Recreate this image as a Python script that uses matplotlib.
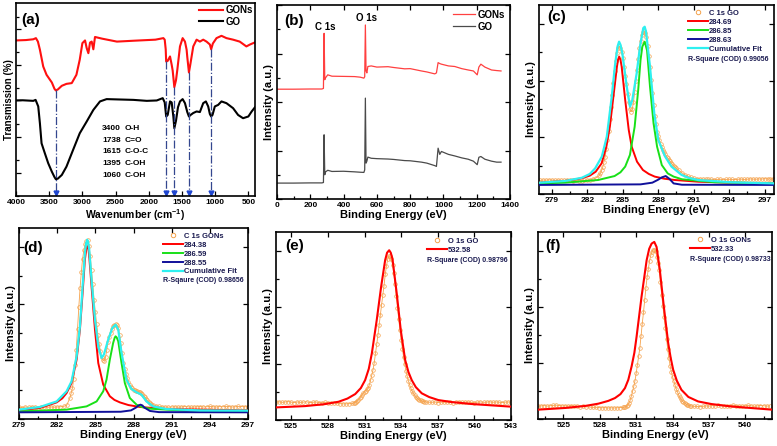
import numpy as np
import matplotlib
matplotlib.use("Agg")
import matplotlib.pyplot as plt
from matplotlib.lines import Line2D
from matplotlib.ticker import MultipleLocator

plt.rcParams['font.family'] = ['Liberation Sans Narrow', 'Liberation Sans', 'DejaVu Sans']
plt.rcParams['font.weight'] = 'bold'
plt.rcParams['axes.labelweight'] = 'bold'
plt.rcParams['mathtext.default'] = 'regular'

# ---------------- (a) FTIR ----------------
ftir_gons_x = [4000, 3850, 3740, 3700, 3670, 3640, 3590, 3540, 3460, 3420, 3400, 3370, 3310, 3240, 3160,
               3090, 3040, 3000, 2960, 2935, 2910, 2885, 2860, 2835, 2810, 2700, 2480, 2200, 1900, 1780,
               1760, 1745, 1738, 1715, 1680, 1655, 1640, 1615, 1590, 1570, 1530, 1490, 1455, 1430, 1420,
               1395, 1375, 1330, 1280, 1230, 1180, 1130, 1080, 1060, 1035, 980, 905, 830, 730, 630,
               530, 475, 400]
ftir_gons_y = [8.06, 8.08, 8.12, 8.18, 8.0, 7.58, 6.71, 6.28, 5.88, 5.55, 5.47, 5.52, 5.71, 5.81, 5.85,
               6.28, 7.06, 7.92, 8.06, 7.66, 7.4, 7.95, 8.0, 7.6, 8.24, 8.15, 8.0, 8.05, 8.1, 8.18,
               8.1, 7.6, 6.97, 7.0, 7.23, 6.8, 6.5, 5.64, 6.0, 6.54, 7.75, 8.18, 8.0, 7.58, 7.2,
               6.4, 6.8, 7.75, 8.1, 8.0, 8.1, 8.0, 7.85, 7.6, 7.9, 8.18, 8.3, 8.18, 8.1, 8.0,
               7.75, 7.85, 7.96]
ftir_go_x = [4000, 3900, 3740, 3705, 3665, 3640, 3615, 3565, 3515, 3460, 3420, 3400, 3370, 3310, 3240,
             3140, 3040, 2935, 2835, 2735, 2635, 2230, 2030, 1880, 1790, 1760, 1738, 1715, 1680, 1655,
             1630, 1615, 1590, 1560, 1530, 1490, 1455, 1420, 1395, 1370, 1330, 1280, 1230, 1180, 1140,
             1105, 1080, 1060, 1040, 1005, 955, 905, 830, 730, 655, 580, 500, 450, 400]
ftir_go_y = [4.95, 4.96, 4.93, 4.98, 4.64, 3.77, 2.73, 2.21, 1.70, 1.26, 0.98, 0.87, 0.9, 1.09, 1.52,
             2.39, 3.25, 3.86, 4.46, 4.9, 5.02, 4.98, 4.93, 4.95, 5.07, 4.85, 4.12, 4.2, 4.9, 4.85,
             4.12, 3.51, 3.9, 4.6, 4.9, 5.02, 4.81, 4.35, 4.12, 4.2, 4.3, 4.38, 4.35, 4.81, 4.9,
             4.64, 4.25, 4.12, 4.2, 4.64, 4.72, 4.9, 4.81, 4.55, 4.2, 4.03, 4.12, 4.38, 4.6]
peak_wn = [3400, 1738, 1615, 1395, 1060]
peak_top = [5.47, 6.97, 5.64, 6.4, 7.6]
peak_groups = ["O-H", "C=O", "C-O-C", "C-OH", "C-OH"]

# ---------------- (b) XPS survey ----------------
survey_x = [0, 100, 200, 270, 279, 283, 287, 292, 305, 330, 400, 466, 500, 522, 527, 531, 535, 540, 546, 566,
            600, 667, 700, 767, 800, 868, 900, 948, 958, 968, 978, 988, 1030, 1068, 1110, 1149, 1180, 1203,
            1213, 1225, 1249, 1289, 1320, 1346]
survey_gons = [5.66, 5.66, 5.67, 5.67, 5.7, 8.54, 6.15, 6.25, 6.4, 6.33, 6.32, 6.31, 6.28, 6.23, 6.3, 8.97,
               6.6, 6.5, 6.83, 6.86, 6.8, 6.82, 6.78, 6.71, 6.72, 6.6, 6.55, 6.45, 6.5, 7.03, 6.98, 6.95,
               6.86, 6.83, 6.72, 6.65, 6.6, 6.4, 6.8, 6.95, 6.8, 6.65, 6.62, 6.6]
survey_go = [0.82, 0.82, 0.83, 0.83, 0.85, 3.31, 1.25, 1.4, 1.48, 1.42, 1.43, 1.4, 1.38, 1.37, 1.5, 5.2,
             1.85, 1.95, 2.16, 2.1, 2.08, 2.06, 2.04, 1.98, 1.97, 1.9, 1.85, 1.72, 1.68, 2.62, 2.3, 2.45,
             2.3, 2.22, 2.12, 2.05, 1.95, 1.77, 2.15, 2.19, 2.05, 1.95, 1.9, 1.9]

# ---------------- (c) C 1s GO ----------------
c_left = (278.0, 0.25, [0.72, 0.74, 0.73, 0.75, 0.74, 0.72, 0.74, 0.73, 0.72, 0.74, 0.72, 0.71, 0.72, 0.70,
                        0.71, 0.72, 0.74, 0.76, 0.80, 0.86])
c_peak = (283.0, 0.1, [0.98, 1.10, 1.25, 1.42, 1.70, 1.98, 2.40, 2.85, 3.33, 3.95,
                       4.60, 5.22, 5.85, 6.50, 7.05, 7.45, 7.72, 7.82, 7.75, 7.50,
                       7.18, 6.72, 6.25, 5.80, 5.30, 4.85, 4.48, 4.36, 4.50, 4.85,
                       5.40, 5.98, 6.55, 7.12, 7.70, 8.10, 8.40, 8.57, 8.60, 8.50,
                       8.33, 7.85, 7.30, 6.74, 6.05, 5.35, 4.70, 4.15, 3.68, 3.30,
                       3.05, 2.85, 2.65, 2.48, 2.35, 2.22, 2.10, 1.98, 1.90, 1.80,
                       1.72, 1.63, 1.57, 1.50, 1.42, 1.37])
c_right = (289.75, 0.25, [1.25, 1.12, 1.02, 0.94, 0.88, 0.84, 0.82, 0.80, 0.79, 0.78, 0.77, 0.78, 0.76,
                          0.77, 0.78, 0.76, 0.77, 0.78, 0.77, 0.76, 0.78, 0.79, 0.77, 0.78, 0.80, 0.79,
                          0.78, 0.80, 0.79, 0.81, 0.80, 0.79, 0.80])
c_red_x = [277.9, 280.1, 281.5, 282.2, 282.7, 283.2, 283.6, 283.9, 284.2, 284.5, 284.6, 284.69, 284.8, 284.9,
           285.2, 285.5, 285.75, 286.2, 286.7, 287.2, 287.7, 288.5, 289.4, 291.4, 294.2, 297.8]
c_red_y = [0.60, 0.69, 0.83, 0.97, 1.18, 1.62, 2.5, 3.56, 5.15, 6.74, 7.12, 7.27, 7.1, 6.74, 4.97, 3.39,
           2.5, 1.71, 1.27, 1.06, 0.92, 0.81, 0.74, 0.65, 0.60, 0.56]
c_green_x = [277.9, 280.1, 282.9, 284.3, 284.8, 285.2, 285.6, 286.0, 286.3, 286.5, 286.65, 286.85, 287.05,
             287.3, 287.6, 287.9, 288.3, 288.8, 289.3, 290.0, 292.8, 297.8]
c_green_y = [0.56, 0.60, 0.74, 0.95, 1.15, 1.45, 2.07, 3.56, 5.5, 7.1, 7.8, 8.06, 7.6, 5.68, 3.74, 2.5,
             1.53, 1.09, 0.92, 0.78, 0.62, 0.56]
c_blue_x = [277.9, 286.5, 287.5, 288.0, 288.3, 288.63, 288.95, 289.3, 290.0, 297.8]
c_blue_y = [0.48, 0.51, 0.60, 0.76, 0.88, 0.95, 0.80, 0.56, 0.49, 0.48]
c_cum_x = [277.93, 280.12, 281.53, 282.2, 282.66, 283.22, 283.64, 284.06, 284.34, 284.55, 284.68, 284.8,
           284.96, 285.33, 285.61, 285.8, 286.17, 286.45, 286.73, 286.85, 286.96, 287.3, 287.66, 288.0,
           288.56, 289.12, 289.97, 290.6, 291.37, 294.19, 297.79]
c_cum_y = [0.60, 0.69, 0.86, 1.06, 1.36, 1.98, 3.03, 5.15, 6.84, 7.8, 8.06, 7.9, 7.44, 5.68, 4.62, 4.97,
           6.38, 7.79, 8.78, 8.85, 8.6, 6.74, 4.27, 2.86, 2.0, 1.45, 1.01, 0.85, 0.74, 0.62, 0.56]

# ---------------- (d) C 1s GONs ----------------
d_left = (279.0, 0.25, [0.62, 0.60, 0.63, 0.61, 0.64, 0.62, 0.60, 0.63, 0.62, 0.61, 0.63, 0.62, 0.63,
                        0.64, 0.66, 0.72])
d_peak = (283.0, 0.1, [1.10, 1.35, 1.62, 2.10, 2.85, 3.63, 4.70, 5.85, 6.85, 7.70,
                       8.40, 8.85, 9.15, 9.32, 9.35, 9.05, 8.55, 7.80, 7.05, 6.25,
                       5.60, 5.00, 4.42, 3.95, 3.55, 3.25, 3.08, 3.05, 3.22, 3.62,
                       4.02, 4.30, 4.52, 4.70, 4.86, 4.94, 4.96, 4.92, 4.78, 4.42,
                       3.98, 3.45, 2.95, 2.62, 2.38, 2.15, 1.95, 1.78, 1.68, 1.60,
                       1.54, 1.50, 1.47, 1.44, 1.42, 1.40, 1.35, 1.30, 1.23, 1.14,
                       1.05, 0.97, 0.90, 0.84, 0.79, 0.75])
d_right = (289.75, 0.25, [0.70, 0.66, 0.64, 0.63, 0.62, 0.63, 0.64, 0.62, 0.63, 0.65, 0.64, 0.62, 0.63,
                          0.64, 0.65, 0.63, 0.64, 0.66, 0.64, 0.63, 0.65, 0.64, 0.66, 0.65, 0.63, 0.64,
                          0.66, 0.65, 0.64, 0.65])
d_red_x = [279, 280.65, 281.96, 282.4, 282.74, 283.13, 283.53, 283.79, 284.0, 284.18, 284.3, 284.38, 284.46,
           284.52, 284.7, 284.97, 285.23, 285.62, 286.14, 286.5, 286.93, 287.6, 288.5, 290.6, 297]
d_red_y = [0.45, 0.58, 0.87, 1.08, 1.36, 1.88, 3.11, 4.68, 6.6, 8.34, 8.95, 9.04, 8.9, 8.52, 6.95, 4.68,
           2.93, 1.8, 1.19, 1.0, 0.87, 0.73, 0.63, 0.52, 0.45]
d_green_x = [279, 282.74, 284.31, 285.1, 285.62, 285.88, 286.14, 286.4, 286.52, 286.59, 286.68, 286.8,
             287.06, 287.32, 287.71, 288.24, 288.7, 289.28, 291.9, 297]
d_green_y = [0.40, 0.49, 0.66, 0.92, 1.45, 2.06, 3.11, 3.98, 4.25, 4.33, 4.27, 4.07, 2.93, 1.88, 1.10,
             0.75, 0.62, 0.54, 0.44, 0.40]
d_blue_x = [279, 287.0, 287.8, 288.2, 288.4, 288.55, 288.7, 288.85, 289.3, 290, 297]
d_blue_y = [0.35, 0.38, 0.45, 0.6, 0.71, 0.75, 0.71, 0.6, 0.42, 0.36, 0.35]
d_cum_x = [279.0, 280.65, 281.96, 282.74, 283.13, 283.53, 283.79, 284.0, 284.18, 284.28, 284.36, 284.44,
           284.52, 284.7, 284.97, 285.23, 285.49, 285.67, 286.01, 286.33, 286.59, 286.8, 287.06, 287.45,
           287.84, 288.24, 288.63, 289.02, 289.54, 290.6, 293.2, 297.0]
d_cum_y = [0.49, 0.63, 0.92, 1.45, 1.97, 3.28, 4.85, 6.95, 8.69, 9.2, 9.39, 9.25, 8.87, 7.3, 5.2, 3.8,
           3.19, 3.37, 4.15, 4.76, 4.94, 4.68, 3.46, 2.06, 1.57, 1.40, 1.27, 0.92, 0.66, 0.52, 0.45, 0.44]

# ---------------- (e) O 1s GO ----------------
e_left = (523.75, 0.25, [0.95, 0.97, 0.94, 0.96, 0.98, 0.95, 0.93, 0.96, 0.94, 0.95, 0.97, 0.93, 0.94,
                         0.96, 0.93, 0.92, 0.94, 0.91, 0.90, 0.92, 0.89, 0.87, 0.86, 0.86, 0.87])
e_peak = (530.0, 0.1, [0.88, 0.90, 0.93, 0.97, 1.02, 1.08, 1.15, 1.24, 1.35, 1.43,
                       1.50, 1.56, 1.63, 1.70, 1.88, 2.12, 2.40, 2.68, 3.05, 3.55,
                       4.02, 4.52, 5.05, 5.60, 6.13, 6.65, 7.15, 7.75, 8.20, 8.55,
                       8.72, 8.70, 8.55, 8.25, 7.80, 7.22, 6.60, 5.98, 5.38, 4.80,
                       4.28, 3.80, 3.36, 2.96, 2.62, 2.32, 2.07, 1.86, 1.68, 1.54,
                       1.42, 1.32, 1.24, 1.17, 1.12, 1.07, 1.04, 1.01, 0.99, 0.97,
                       0.96])
e_right = (536.25, 0.25, [0.95, 0.94, 0.96, 0.93, 0.95, 0.94, 0.96, 0.95, 0.93, 0.95, 0.97, 0.94, 0.95,
                          0.96, 0.94, 0.93, 0.95, 0.96, 0.94, 0.95, 0.97, 0.94, 0.96, 0.95, 0.93, 0.95,
                          0.96, 0.94])
e_fit_x = [523.75, 526.15, 527.7, 528.87, 529.6, 530.24, 530.7, 531.05, 531.35, 531.6, 532.0, 532.36,
           532.69, 532.85, 533.02, 533.15, 533.29, 533.64, 533.97, 534.33, 534.6, 534.87, 535.2, 535.69,
           536.3, 537.05, 538.2, 539.78, 543.0]
e_fit_y = [0.67, 0.74, 0.84, 0.97, 1.14, 1.38, 1.70, 2.12, 2.72, 3.54, 5.31, 7.08, 8.5, 8.9, 9.03, 8.9,
           8.58, 6.73, 4.78, 3.19, 2.55, 2.12, 1.75, 1.42, 1.22, 1.06, 0.95, 0.85, 0.71]

# ---------------- (f) O 1s GONs ----------------
f_left = (522.9, 0.25, [0.68, 0.70, 0.72, 0.69, 0.71, 0.73, 0.74, 0.72, 0.70, 0.71, 0.69, 0.72, 0.70,
                        0.68, 0.66, 0.67, 0.65, 0.64, 0.62, 0.63, 0.61, 0.60, 0.61, 0.59, 0.60, 0.59,
                        0.60, 0.61, 0.62])
f_peak = (530.0, 0.1, [0.62, 0.64, 0.68, 0.75, 0.85, 1.00, 1.22, 1.48, 1.75, 2.05,
                       2.45, 2.90, 3.35, 3.80, 4.45, 5.10, 5.70, 6.35, 7.02, 7.58,
                       8.02, 8.45, 8.75, 8.95, 9.05, 9.05, 8.98, 8.68, 8.35, 7.98,
                       7.30, 6.65, 6.05, 5.45, 4.88, 4.30, 3.72, 3.25, 2.85, 2.52,
                       2.25, 2.05, 1.82, 1.62, 1.45, 1.28, 1.15, 1.05, 0.97, 0.90,
                       0.85, 0.80, 0.76, 0.73, 0.71, 0.69])
f_right = (535.75, 0.25, [0.68, 0.67, 0.66, 0.68, 0.70, 0.69, 0.72, 0.70, 0.73, 0.71, 0.69, 0.70, 0.72,
                          0.74, 0.71, 0.70, 0.69, 0.71, 0.73, 0.70, 0.68, 0.70, 0.72, 0.71, 0.69, 0.70])
f_fit_x = [522.9, 525.14, 526.8, 527.88, 528.7, 529.25, 529.7, 530.07, 530.35, 530.62, 530.85, 531.03,
           531.44, 531.86, 532.07, 532.27, 532.49, 532.68, 532.95, 533.28, 533.64, 533.85, 534.05, 534.35,
           534.73, 535.3, 536.1, 537.2, 538.85, 542.2]
f_fit_y = [0.50, 0.59, 0.70, 0.82, 0.97, 1.12, 1.33, 1.65, 2.10, 2.81, 3.55, 4.4, 6.54, 8.49, 9.1, 9.38,
           9.47, 9.2, 7.96, 6.0, 4.05, 3.25, 2.63, 2.05, 1.56, 1.18, 0.94, 0.80, 0.67, 0.50]

ORANGE = '#f5a24c'
RED = '#ff0000'
GREEN = '#18e018'
BLUE = '#10109a'
CYAN = '#2ef0f0'
NAVY = '#1a1a50'


def series(*parts):
    xs, ys = [], []
    for start, step, vals in parts:
        xs.extend(start + step * np.arange(len(vals)))
        ys.extend(vals)
    return np.array(xs), np.array(ys)


fig = plt.figure(figsize=(7.77, 4.46), dpi=100)


def add_ax(l, t, r, b):
    return fig.add_axes([l / 777, 1 - b / 446, (r - l) / 777, (b - t) / 446])


def style(ax, xmaj, xmin, ymaj, ymin, direction='in', mirror=True):
    for s in ax.spines.values():
        s.set_linewidth(1.2)
    ax.xaxis.set_major_locator(MultipleLocator(xmaj))
    ax.xaxis.set_minor_locator(MultipleLocator(xmin))
    ax.yaxis.set_major_locator(MultipleLocator(ymaj))
    ax.yaxis.set_minor_locator(MultipleLocator(ymin))
    ax.tick_params(which='both', direction=direction, labelsize=6, width=0.9, pad=2,
                   top=mirror, right=mirror, labelleft=False)
    ax.tick_params(which='major', length=3.5)
    ax.tick_params(which='minor', length=2, top=False, right=False)


def panel_label(ax, s, x, y):
    ax.text(x, y, s, transform=ax.transAxes, fontsize=11, fontweight='bold',
            family=['Liberation Sans', 'DejaVu Sans'], ha='left', va='center')


# ---------- (a) ----------
ax = add_ax(16, 3, 255, 196)
ax.plot(ftir_gons_x, ftir_gons_y, color='#ff1010', lw=1.5, label='GONs')
ax.plot(ftir_go_x, ftir_go_y, color='black', lw=1.5, label='GO')
for wn, top in zip(peak_wn, peak_top):
    ax.plot([wn, wn], [top, 0.12], ls='-.', color='#34478f', lw=0.9)
    ax.plot([wn], [0.16], marker='v', color='#1f46d0', ms=3.5)
ax.set_xlim(4000, 400)
ax.set_ylim(0, 10)
style(ax, 500, 250, 1.86, 1.86, direction='in', mirror=False)
ax.set_yticks([1.21, 3.08, 4.95, 6.8, 8.65])
ax.tick_params(axis='x', which='minor', length=0)
ax.set_xlabel(r'Wavenumber (cm$^{-1}$)', fontsize=7.5, labelpad=1)
ax.set_ylabel('Transmission (%)', fontsize=7, labelpad=1.5)
for i, (wn, g) in enumerate(zip(peak_wn, peak_groups)):
    yy = 0.352 - i * 0.062
    ax.text(0.36, yy, str(wn), transform=ax.transAxes, fontsize=6, va='center')
    ax.text(0.455, yy, g, transform=ax.transAxes, fontsize=6, va='center')
ax.legend(loc='upper right', frameon=False, fontsize=7, handlelength=2.4, handletextpad=0.3,
          labelspacing=0.2, borderpad=0.1, borderaxespad=0.1)
panel_label(ax, '(a)', 0.02, 0.91)

# ---------- (b) ----------
ax = add_ax(277, 5, 510, 199)
ax.plot(survey_x, survey_gons, color='#ff4040', lw=0.9, label='GONs')
ax.plot(survey_x, survey_go, color='#4a4a4a', lw=0.9, label='GO')
ax.set_xlim(0, 1400)
ax.set_ylim(0, 10)
style(ax, 200, 100, 2.5, 1.25)
ax.text(288, 8.87, 'C 1s', fontsize=7, ha='center', va='center')
ax.text(535, 9.33, 'O 1s', fontsize=7, ha='center', va='center')
ax.set_xlabel('Binding Energy (eV)', fontsize=8, labelpad=1)
ax.set_ylabel('Intensity (a.u.)', fontsize=8, labelpad=2)
ax.legend(loc='upper right', frameon=False, fontsize=7, handlelength=2.2, handletextpad=0.3,
          labelspacing=0.2, borderpad=0.2, borderaxespad=0.3)
panel_label(ax, '(b)', 0.03, 0.92)


def xps_panel(box, xlim, data, fits, leg_labels, leg_x, leg_y, rsq, rsq_y, label, lab_xy):
    ax = add_ax(*box)
    dx, dy = data
    ax.plot(dx, dy, color=ORANGE, lw=0.6, zorder=1)
    ax.plot(dx, dy, ls='none', marker='o', ms=2.6, mfc='none', mec=ORANGE, mew=0.5, zorder=2)
    handles = [Line2D([], [], ls='none', marker='o', ms=3.2, mfc='none', mec=ORANGE, mew=0.7)]
    for fx, fy, col, lw in fits:
        ax.plot(fx, fy, color=col, lw=lw, zorder=3)
        handles.append(Line2D([], [], color=col, lw=lw))
    ax.set_xlim(*xlim)
    ax.set_ylim(0, 10)
    style(ax, 3, 1.5, 3.0, 1.5)
    ax.set_xlabel('Binding Energy (eV)', fontsize=8, labelpad=1)
    ax.set_ylabel('Intensity (a.u.)', fontsize=8, labelpad=2)
    leg = ax.legend(handles, leg_labels, loc='upper left', bbox_to_anchor=(leg_x, leg_y), frameon=False,
                    fontsize=5.5, handlelength=2.6, handletextpad=0.15, labelspacing=0.2,
                    borderpad=0, borderaxespad=0)
    for t in leg.get_texts():
        t.set_color(NAVY)
    ax.text(leg_x, rsq_y, rsq, transform=ax.transAxes, fontsize=5, color=NAVY,
            ha='left', va='center')
    panel_label(ax, label, *lab_xy)
    return ax


xps_panel((539, 5, 774, 194), (277.9, 297.8), series(c_left, c_peak, c_right),
          [(c_red_x, c_red_y, RED, 1.4), (c_green_x, c_green_y, GREEN, 1.4),
           (c_blue_x, c_blue_y, BLUE, 1.4), (c_cum_x, c_cum_y, CYAN, 1.6)],
          ['C 1s GO', '284.69', '286.85', '288.63', 'Cumulative Fit'], 0.634, 0.975,
          'R-Square (COD) 0.99056', 0.709, '(c)', (0.034, 0.934))

xps_panel((19, 228, 248, 419), (279, 297), series(d_left, d_peak, d_right),
          [(d_red_x, d_red_y, RED, 1.4), (d_green_x, d_green_y, GREEN, 1.4),
           (d_blue_x, d_blue_y, BLUE, 1.4), (d_cum_x, d_cum_y, CYAN, 1.6)],
          ['C 1s GONs', '284.38', '286.59', '288.55', 'Cumulative Fit'], 0.629, 0.976,
          'R-Sqaure (COD) 0.98656', 0.723, '(d)', (0.017, 0.895))

xps_panel((276, 232, 511, 420), (523.75, 543), series(e_left, e_peak, e_right),
          [(e_fit_x, e_fit_y, RED, 1.5)],
          ['O 1s GO', '532.58'], 0.643, 0.971,
          'R-Square (COD) 0.98796', 0.851, '(e)', (0.038, 0.926))

xps_panel((538, 232, 772, 419), (522.9, 542.2), series(f_left, f_peak, f_right),
          [(f_fit_x, f_fit_y, RED, 1.5)],
          ['O 1s GONs', '532.33'], 0.65, 0.976,
          'R-Square (COD) 0.98733', 0.852, '(f)', (0.03, 0.925))

fig.savefig('out.png', dpi=100)
